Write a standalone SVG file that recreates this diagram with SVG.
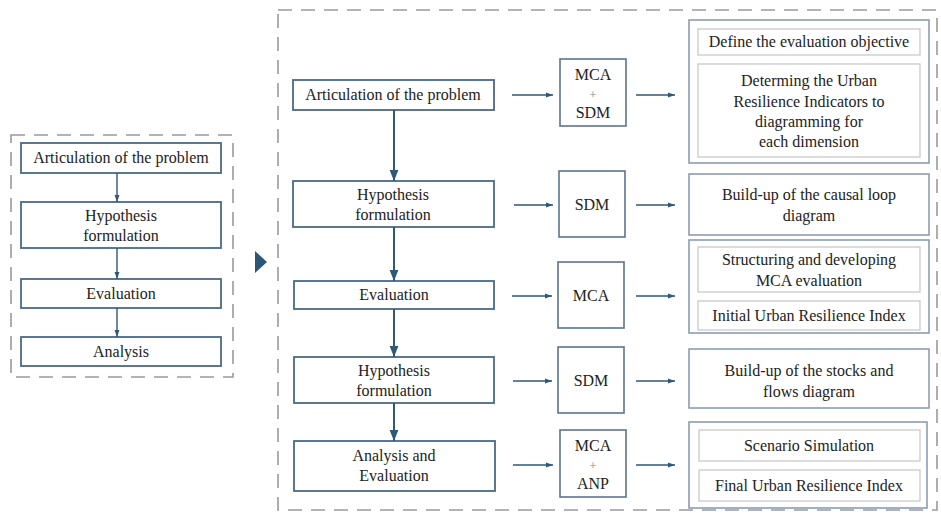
<svg xmlns="http://www.w3.org/2000/svg" width="941" height="513" viewBox="0 0 941 513" font-family="Liberation Serif, DejaVu Serif, serif">
<defs>
<style>
text{font-size:16px;fill:#222;text-anchor:middle}
.dash{fill:none;stroke:#9a9a9a;stroke-width:1.6;stroke-dasharray:14,9}
.main{fill:#fff;stroke:#4a6a88;stroke-width:1.8}
.mid{fill:#fff;stroke:#5a7590;stroke-width:1.6}
.outer{fill:#fff;stroke:#8b9db2;stroke-width:1.6}
.inner{fill:#fff;stroke:#c9c9c9;stroke-width:1.3}
.plus{font-size:13px;fill:#888}
.con{stroke:#2f5879;stroke-width:1.4;fill:none;marker-end:url(#ah)}
.conb{stroke:#2f5879;stroke-width:2;fill:none;marker-end:url(#ahb)}
</style>
<marker id="ah" viewBox="0 0 10 10" refX="10" refY="5" markerWidth="7" markerHeight="7" markerUnits="userSpaceOnUse" orient="auto"><path d="M0,1.5 L10,5 L0,8.5 Z" fill="#2f5879"/></marker>
<marker id="ahb" viewBox="0 0 10 10" refX="10" refY="5" markerWidth="11" markerHeight="11" markerUnits="userSpaceOnUse" orient="auto"><path d="M0,1 L10,5 L0,9 Z" fill="#2f5879"/></marker>
</defs>
<rect width="941" height="513" fill="#fff"/>

<g id="left-frame">
<rect class="dash" x="11" y="135" width="222" height="242"/>
</g>
<g id="l1"><rect class="main" x="21" y="143" width="200" height="30"/><text x="121" y="163">Articulation of the problem</text></g>
<g id="l2"><rect class="main" x="21" y="202" width="200" height="46"/><text x="121" y="221">Hypothesis</text><text x="121" y="241">formulation</text></g>
<g id="l3"><rect class="main" x="21" y="279" width="200" height="29"/><text x="121" y="299">Evaluation</text></g>
<g id="l4"><rect class="main" x="21" y="337" width="200" height="29"/><text x="121" y="357">Analysis</text></g>

<g id="pointer"><path d="M255,251 L267,262 L255,273 Z" fill="#2b5676"/></g>

<g id="right-frame"><rect class="dash" x="278" y="10" width="659" height="500"/></g>

<g id="m1"><rect class="main" x="293" y="80" width="201" height="30"/><text x="393" y="100">Articulation of the problem</text></g>
<g id="m2"><rect class="main" x="293" y="181" width="201" height="46"/><text x="393" y="200">Hypothesis</text><text x="393" y="220">formulation</text></g>
<g id="m3"><rect class="main" x="294" y="281" width="200" height="28"/><text x="394" y="300">Evaluation</text></g>
<g id="m4"><rect class="main" x="294" y="357" width="200" height="46"/><text x="394" y="376">Hypothesis</text><text x="394" y="396">formulation</text></g>
<g id="m5"><rect class="main" x="294" y="441" width="201" height="50"/><text x="394" y="461">Analysis and</text><text x="394" y="481">Evaluation</text></g>

<g id="t1"><rect class="mid" x="560" y="59" width="66" height="67"/><text x="593" y="80">MCA</text><text class="plus" x="593" y="99">+</text><text x="593" y="118">SDM</text></g>
<g id="t2"><rect class="mid" x="559" y="171" width="66" height="66"/><text x="592" y="210">SDM</text></g>
<g id="t3"><rect class="mid" x="558" y="262" width="66" height="66"/><text x="591" y="301">MCA</text></g>
<g id="t4"><rect class="mid" x="558" y="347" width="66" height="66"/><text x="591" y="386">SDM</text></g>
<g id="t5"><rect class="mid" x="560" y="430" width="66" height="67"/><text x="593" y="451">MCA</text><text class="plus" x="593" y="470">+</text><text x="593" y="489">ANP</text></g>

<g id="r1">
<rect class="outer" x="689" y="20" width="240" height="143"/>
<rect class="inner" x="698" y="29" width="222" height="26"/>
<text x="809" y="47">Define the evaluation objective</text>
<rect class="inner" x="698" y="64" width="222" height="93"/>
<text x="809" y="86">Determing the Urban</text>
<text x="809" y="107">Resilience Indicators to</text>
<text x="809" y="127">diagramming for</text>
<text x="809" y="147">each dimension</text>
</g>
<g id="r2"><rect class="outer" x="689" y="174" width="240" height="61"/><text x="809" y="200">Build-up of the causal loop</text><text x="809" y="221">diagram</text></g>
<g id="r3">
<rect class="outer" x="689" y="240" width="240" height="93"/>
<rect class="inner" x="698" y="247" width="222" height="45"/>
<text x="809" y="265">Structuring and developing</text>
<text x="809" y="286">MCA evaluation</text>
<rect class="inner" x="698" y="301" width="222" height="29"/>
<text x="809" y="321">Initial Urban Resilience Index</text>
</g>
<g id="r4"><rect class="outer" x="689" y="349" width="240" height="59"/><text x="809" y="376">Build-up of the stocks and</text><text x="809" y="397">flows diagram</text></g>
<g id="r5">
<rect class="outer" x="689" y="422" width="238" height="86"/>
<rect class="inner" x="699" y="430" width="221" height="31"/>
<text x="809" y="451">Scenario Simulation</text>
<rect class="inner" x="699" y="470" width="221" height="31"/>
<text x="809" y="491">Final Urban Resilience Index</text>
</g>

<g id="connectors">
<line class="con" x1="117" y1="173" x2="117" y2="202"/>
<line class="con" x1="117" y1="248" x2="117" y2="279"/>
<line class="con" x1="117" y1="308" x2="117" y2="337"/>

<line class="conb" x1="394" y1="110" x2="394" y2="181"/>
<line class="conb" x1="394" y1="227" x2="394" y2="281"/>
<line class="conb" x1="394" y1="309" x2="394" y2="357"/>
<line class="conb" x1="394" y1="403" x2="394" y2="441"/>

<line class="con" x1="512" y1="95" x2="553" y2="95"/>
<line class="con" x1="514" y1="205" x2="553" y2="205"/>
<line class="con" x1="512" y1="296" x2="552" y2="296"/>
<line class="con" x1="513" y1="381" x2="552" y2="381"/>
<line class="con" x1="513" y1="465" x2="553" y2="465"/>

<line class="con" x1="636" y1="95" x2="675" y2="95"/>
<line class="con" x1="636" y1="205" x2="675" y2="205"/>
<line class="con" x1="636" y1="296" x2="675" y2="296"/>
<line class="con" x1="636" y1="381" x2="675" y2="381"/>
<line class="con" x1="636" y1="465" x2="675" y2="465"/>
</g>
</svg>
